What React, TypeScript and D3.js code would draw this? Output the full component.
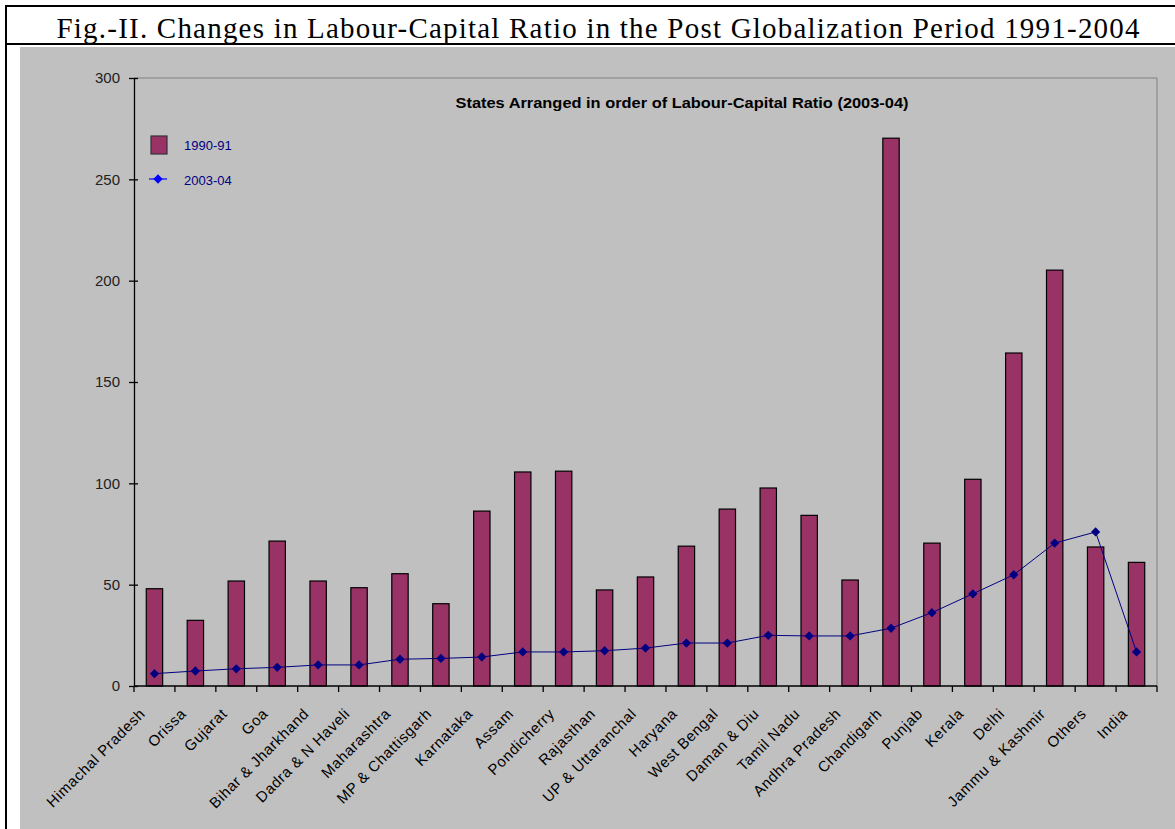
import * as d3 from "d3";
import { useRef, useEffect } from "react";

const WIDTH = 1175;
const HEIGHT = 829;
const MARGIN = { top: 78, right: 18, bottom: 143, left: 134 };

const states = [
  "Himachal Pradesh", "Orissa", "Gujarat", "Goa", "Bihar & Jharkhand", "Dadra & N Haveli",
  "Maharashtra", "MP & Chattisgarh", "Karnataka", "Assam", "Pondicherry", "Rajasthan",
  "UP & Uttaranchal", "Haryana", "West Bengal", "Daman & Diu", "Tamil Nadu", "Andhra Pradesh",
  "Chandigarh", "Punjab", "Kerala", "Delhi", "Jammu & Kashmir", "Others", "India",
];

const ratio1990 = [
  48, 32.4, 51.8, 71.5, 51.8, 48.5, 55.4, 40.6, 86.3, 105.6, 106, 47.4, 53.8,
  69, 87.3, 97.7, 84.2, 52.3, 270.3, 70.5, 102, 164.3, 205.2, 68.6, 61,
];

const ratio2003 = [
  6.1, 7.4, 8.5, 9.2, 10.4, 10.4, 13.2, 13.6, 14.3, 16.8, 16.8, 17.4, 18.7,
  21.2, 21.2, 25, 24.7, 24.7, 28.5, 36.2, 45.5, 54.9, 70.5, 76, 16.8,
];

const yTicks = [0, 50, 100, 150, 200, 250, 300];

const TITLE = "Fig.-II. Changes in Labour-Capital Ratio in the Post Globalization Period 1991-2004";
const SUBTITLE = "States Arranged in order of Labour-Capital Ratio (2003-04)";

const BAR_FILL = "#993366";
const LINE_COLOR = "#000080";
const BG = "#C0C0C0";
const SANS = "Arial, 'Liberation Sans', sans-serif";

const LabourCapitalChart = () => {
  const svgRef = useRef(null);

  useEffect(() => {
    const svg = d3.select(svgRef.current);
    svg.selectAll("*").remove();

    const innerWidth = WIDTH - MARGIN.left - MARGIN.right;
    const innerHeight = HEIGHT - MARGIN.top - MARGIN.bottom;

    // frame: white page, grey chart area, black table borders
    svg.append("rect").attr("width", WIDTH).attr("height", HEIGHT).attr("fill", "white");
    svg.append("rect").attr("x", 20).attr("y", 47).attr("width", WIDTH - 20).attr("height", HEIGHT - 47).attr("fill", BG);
    svg.append("line").attr("x1", 5).attr("x2", WIDTH).attr("y1", 6).attr("y2", 6).attr("stroke", "black").attr("stroke-width", 2);
    svg.append("line").attr("x1", 5).attr("x2", WIDTH).attr("y1", 44).attr("y2", 44).attr("stroke", "black").attr("stroke-width", 2);
    svg.append("line").attr("x1", 6).attr("x2", 6).attr("y1", 5).attr("y2", HEIGHT).attr("stroke", "black").attr("stroke-width", 2);

    svg.append("text")
      .attr("x", 598)
      .attr("y", 38)
      .attr("text-anchor", "middle")
      .attr("textLength", 1083)
      .attr("lengthAdjust", "spacing")
      .style("font-family", "'Liberation Serif', 'Times New Roman', serif")
      .style("font-size", "29px")
      .text(TITLE);

    const xScale = d3.scaleBand().domain(states).range([0, innerWidth]);
    const yScale = d3.scaleLinear().domain([0, 300]).range([innerHeight, 0]);

    const g = svg.append("g").attr("transform", `translate(${MARGIN.left},${MARGIN.top})`);

    // plot area border (top + right)
    g.append("path")
      .attr("d", `M0,0H${innerWidth}V${innerHeight}`)
      .attr("fill", "none")
      .attr("stroke", "#808080");

    // bars
    const barW = xScale.bandwidth() * 0.4;
    g.selectAll(".bar")
      .data(states)
      .enter()
      .append("rect")
      .attr("x", (d) => xScale(d) + (xScale.bandwidth() - barW) / 2)
      .attr("y", (d, i) => yScale(ratio1990[i]))
      .attr("width", barW)
      .attr("height", (d, i) => innerHeight - yScale(ratio1990[i]))
      .attr("fill", BAR_FILL)
      .attr("stroke", "black")
      .attr("stroke-width", 1.2);

    // line + diamonds
    const line = d3.line<string>()
      .x((d) => xScale(d) + xScale.bandwidth() / 2)
      .y((d, i) => yScale(ratio2003[i]));
    g.append("path")
      .attr("d", line(states))
      .attr("fill", "none")
      .attr("stroke", LINE_COLOR)
      .attr("stroke-width", 1);

    const diamond = d3.symbol().type(d3.symbolDiamond2).size(55);
    g.selectAll(".pt")
      .data(states)
      .enter()
      .append("path")
      .attr("d", diamond)
      .attr("transform", (d, i) => `translate(${xScale(d) + xScale.bandwidth() / 2},${yScale(ratio2003[i])})`)
      .attr("fill", LINE_COLOR);

    // y axis
    const yAxis = g.append("g").call(
      d3.axisLeft(yScale).tickValues(yTicks).tickSize(0).tickPadding(14)
    );
    yAxis.select(".domain").attr("stroke", "black").attr("stroke-width", 1.3);
    yAxis.selectAll(".tick line").remove();
    yAxis.selectAll(".tick")
      .append("line")
      .attr("x1", -5)
      .attr("x2", 4)
      .attr("stroke", "black")
      .attr("stroke-width", 1.3);
    yAxis.selectAll("text")
      .style("font-family", SANS)
      .style("font-size", "15px")
      .attr("fill", "#222");

    // x axis with ticks on band boundaries
    const xAxis = g.append("g").attr("transform", `translate(0,${innerHeight})`);
    xAxis.append("line").attr("x1", 0).attr("x2", innerWidth).attr("stroke", "black").attr("stroke-width", 1.3);
    const bounds = states.map((d) => xScale(d)).concat([innerWidth]);
    xAxis.selectAll(".xt")
      .data(bounds)
      .enter()
      .append("line")
      .attr("x1", (d) => d)
      .attr("x2", (d) => d)
      .attr("y1", 0)
      .attr("y2", 6)
      .attr("stroke", "black")
      .attr("stroke-width", 1.3);
    xAxis.selectAll(".xl")
      .data(states)
      .enter()
      .append("text")
      .attr("transform", (d) => `translate(${xScale(d) + xScale.bandwidth() / 2 - 12},${25}) rotate(-45)`)
      .attr("text-anchor", "end")
      .attr("dy", "0.35em")
      .style("font-family", SANS)
      .style("font-size", "15px")
      .style("letter-spacing", "0.6px")
      .attr("fill", "black")
      .text((d) => d);

    // subtitle
    svg.append("text")
      .attr("x", 682)
      .attr("y", 108)
      .attr("text-anchor", "middle")
      .attr("textLength", 453)
      .attr("lengthAdjust", "spacingAndGlyphs")
      .style("font-family", SANS)
      .style("font-size", "15.5px")
      .style("font-weight", "bold")
      .text(SUBTITLE);

    // legend
    const legend = svg.append("g");
    legend.append("rect")
      .attr("x", 151).attr("y", 136).attr("width", 16).attr("height", 18)
      .attr("fill", BAR_FILL).attr("stroke", "#333").attr("stroke-width", 1.2);
    legend.append("text")
      .attr("x", 184).attr("y", 145).attr("dy", "0.35em")
      .style("font-family", SANS)
      .style("font-size", "13px")
      .attr("fill", LINE_COLOR)
      .text("1990-91");
    legend.append("line")
      .attr("x1", 149).attr("x2", 167).attr("y1", 179).attr("y2", 179)
      .attr("stroke", "#0000FF").attr("stroke-width", 1.2);
    legend.append("path")
      .attr("d", diamond)
      .attr("transform", "translate(158,179)")
      .attr("fill", "#0000FF");
    legend.append("text")
      .attr("x", 184).attr("y", 180).attr("dy", "0.35em")
      .style("font-family", SANS)
      .style("font-size", "13px")
      .attr("fill", LINE_COLOR)
      .text("2003-04");
  }, []);

  return (
    <svg
      ref={svgRef}
      width={WIDTH}
      height={HEIGHT}
      style={{ position: "absolute", left: 0, top: 0, display: "block" }}
    />
  );
};

export default function App() {
  return <LabourCapitalChart />;
}
